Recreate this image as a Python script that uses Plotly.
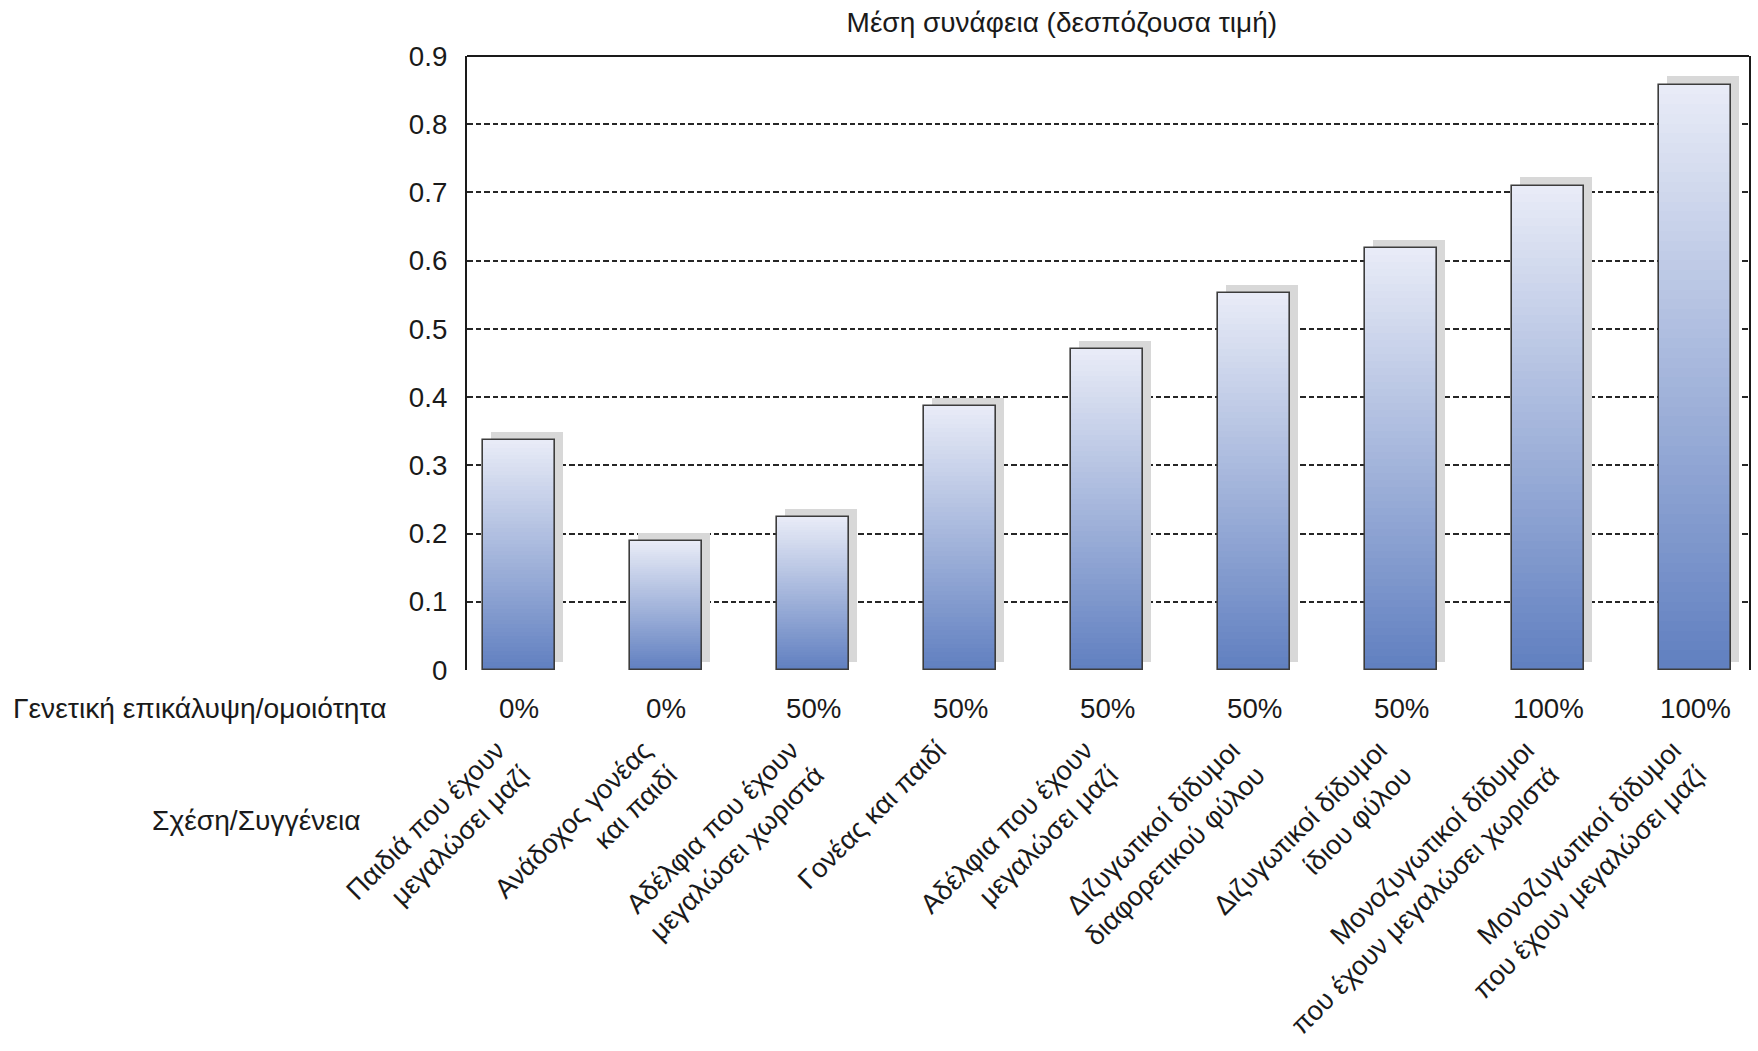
import plotly.graph_objects as go

relations = [
    "Παιδιά που έχουν<br>μεγαλώσει μαζί",
    "Ανάδοχος γονέας<br>και παιδί",
    "Αδέλφια που έχουν<br>μεγαλώσει χωριστά",
    "Γονέας και παιδί",
    "Αδέλφια που έχουν<br>μεγαλώσει μαζί",
    "Διζυγωτικοί δίδυμοι<br>διαφορετικού φύλου",
    "Διζυγωτικοί δίδυμοι<br>ίδιου φύλου",
    "Μονοζυγωτικοί δίδυμοι<br>που έχουν μεγαλώσει χωριστά",
    "Μονοζυγωτικοί δίδυμοι<br>που έχουν μεγαλώσει μαζί",
]
genetic_overlap = ["0%", "0%", "50%", "50%", "50%", "50%", "50%", "100%", "100%"]
correlation = [0.337, 0.189, 0.224, 0.387, 0.470, 0.553, 0.618, 0.710, 0.858]

title_text = "Μέση συνάφεια (δεσπόζουσα τιμή)"
overlap_title = "Γενετική επικάλυψη/ομοιότητα"
relation_title = "Σχέση/Συγγένεια"

FONT = "Liberation Sans, Arial, Helvetica, sans-serif"
TXT = "#1a1a1a"
FS = 27.7
LFS = 27.2
pos = list(range(len(correlation)))

BAR_W = 0.49
BAR_OFF = -BAR_W / 2
SH_DX = 0.054
SH_BASE = 0.012
LABEL_SHIFT = -0.15

top_rgb = (233, 236, 247)
bot_rgb = (96, 127, 192)

fig = go.Figure()

# shadow
fig.add_trace(go.Bar(
    x=pos, y=correlation, base=[SH_BASE] * len(pos),
    width=BAR_W, offset=BAR_OFF + SH_DX,
    marker=dict(color="#d8d8d8", line=dict(width=0)),
    hoverinfo="skip", showlegend=False,
))

# gradient fill, overlaid slices
N = 60
for k in range(N):
    t = (k + 0.5) / N
    c = tuple(round(bot_rgb[i] + (top_rgb[i] - bot_rgb[i]) * t) for i in range(3))
    fig.add_trace(go.Bar(
        x=pos,
        base=[v * k / N for v in correlation],
        y=[v * (1 - k / N) for v in correlation],
        width=BAR_W, offset=BAR_OFF,
        marker=dict(color="rgb(%d,%d,%d)" % c, line=dict(width=0)),
        hoverinfo="skip", showlegend=False,
    ))

# outline
fig.add_trace(go.Bar(
    x=pos, y=correlation, width=BAR_W, offset=BAR_OFF,
    marker=dict(color="rgba(0,0,0,0)", line=dict(color="#3c3c3c", width=1.6)),
    showlegend=False,
))

annotations = []
for i, g in enumerate(genetic_overlap):
    annotations.append(dict(
        x=i, xref="x", y=-0.062, yref="paper", text=g, showarrow=False,
        xanchor="center", yanchor="middle",
        font=dict(family=FONT, size=FS, color=TXT),
    ))
annotations.append(dict(
    x=-0.356, xref="paper", y=-0.062, yref="paper", text=overlap_title,
    showarrow=False, xanchor="left", yanchor="middle",
    font=dict(family=FONT, size=28.2, color=TXT),
))
annotations.append(dict(
    x=-0.2475, xref="paper", y=-0.244, yref="paper", text=relation_title,
    showarrow=False, xanchor="left", yanchor="middle",
    font=dict(family=FONT, size=28.2, color=TXT),
))

fig.update_layout(
    width=1758, height=1051,
    margin=dict(l=467, r=9, t=56, b=381, autoexpand=False),
    paper_bgcolor="white", plot_bgcolor="white",
    barmode="overlay", bargap=0,
    title=dict(text=title_text, x=0.604, xanchor="center", y=0.979, yanchor="middle",
               font=dict(family=FONT, size=28, color=TXT)),
    annotations=annotations,
    shapes=[dict(type="line", xref="paper", yref="paper", x0=0, x1=1, y0=1, y1=1,
                 line=dict(color="#1a1a1a", width=2.2), layer="above")],
    font=dict(family=FONT, size=FS, color=TXT),
)

fig.update_xaxes(
    automargin=False,
    range=[-0.354, 8.367],
    tickmode="array", tickvals=[p + LABEL_SHIFT for p in pos], ticktext=relations,
    tickangle=-45, ticks="", showgrid=False, zeroline=False,
    showline=False, ticklabelstandoff=58,
    tickfont=dict(family=FONT, size=LFS, color=TXT),
)
fig.update_yaxes(
    automargin=False,
    range=[0, 0.9], tickmode="linear", tick0=0, dtick=0.1,
    showgrid=True, gridcolor="#262626", gridwidth=2.2, griddash="5.5px,3px",
    zeroline=False, showline=True, linecolor="#1a1a1a", linewidth=2.2, mirror=True,
    ticks="", ticklabelstandoff=12,
    tickfont=dict(family=FONT, size=FS, color=TXT),
)

fig.write_html("out.html")
